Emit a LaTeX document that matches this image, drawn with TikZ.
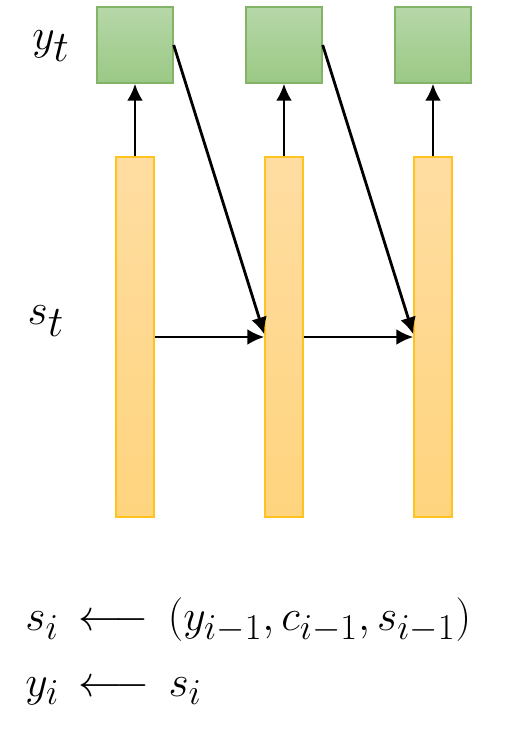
\documentclass[tikz,border=0pt]{standalone}
\usepackage{amsmath}
\usepackage{xcolor}
\usepackage{tikz}
\usetikzlibrary{arrows.meta}
\definecolor{boxtop}{HTML}{B6D7A8}
\definecolor{boxbot}{HTML}{9BC985}
\definecolor{boxline}{HTML}{82B366}
\definecolor{bartop}{HTML}{FFDDA2}
\definecolor{barbot}{HTML}{FFD47E}
\definecolor{barline}{HTML}{FFC21F}
\tikzstyle{outbox} = [draw=boxline, line width=0.8pt, top color=boxtop, bottom color=boxbot, minimum size=1.52cm, inner sep=0pt]
\tikzstyle{statebar} = [draw=barline, line width=0.8pt, top color=bartop, bottom color=barbot, minimum width=0.76cm, minimum height=7.2cm, inner sep=0pt]
\tikzstyle{myarrow} = [line width=1.6pt, -{Latex[length=3.4mm,width=3.2mm]}]
\tikzstyle{mylabel} = [inner sep=0pt, font=\fontsize{34}{40}\selectfont]
\tikzstyle{myeq} = [inner sep=0pt, anchor=west, font=\fontsize{32}{38}\selectfont]

\begin{document}
\begin{tikzpicture}
        \useasboundingbox (0,0) rectangle (10.12,-14.66);

        % Outputs
        \node[outbox] (y_1) at (2.7,-0.9) {};
        \node[outbox] (y_2) at (5.68,-0.9) {};
        \node[outbox] (y_3) at (8.66,-0.9) {};

        % States
        \node[statebar] (s_1) at (2.7,-6.74) {};
        \node[statebar] (s_2) at (5.68,-6.74) {};
        \node[statebar] (s_3) at (8.66,-6.74) {};

        % Side labels
        \node[mylabel] (lab_y) at (1.02,-0.92) {$y_t$};
        \node[mylabel] (lab_s) at (0.92,-6.42) {$s_t$};

        % Arrows
        \draw[myarrow] (s_1) -- (y_1);
        \draw[myarrow] (s_2) -- (y_2);
        \draw[myarrow] (s_3) -- (y_3);

        \draw[myarrow] (s_1) -- (s_2);
        \draw[myarrow] (s_2) -- (s_3);

        \draw[myarrow] (y_1.east) -- ([yshift=1.5pt]s_2.west);
        \draw[myarrow] (y_2.east) -- ([yshift=1.5pt]s_3.west);

        % Equations
        \node[myeq] (eq_1) at (0.5,-12.4) {$s_i \,\longleftarrow\, (y_{i-1}, c_{i-1}, s_{i-1})$};
        \node[myeq] (eq_2) at (0.5,-13.82) {$y_i \,\longleftarrow\, s_i$};
\end{tikzpicture}
\end{document}
